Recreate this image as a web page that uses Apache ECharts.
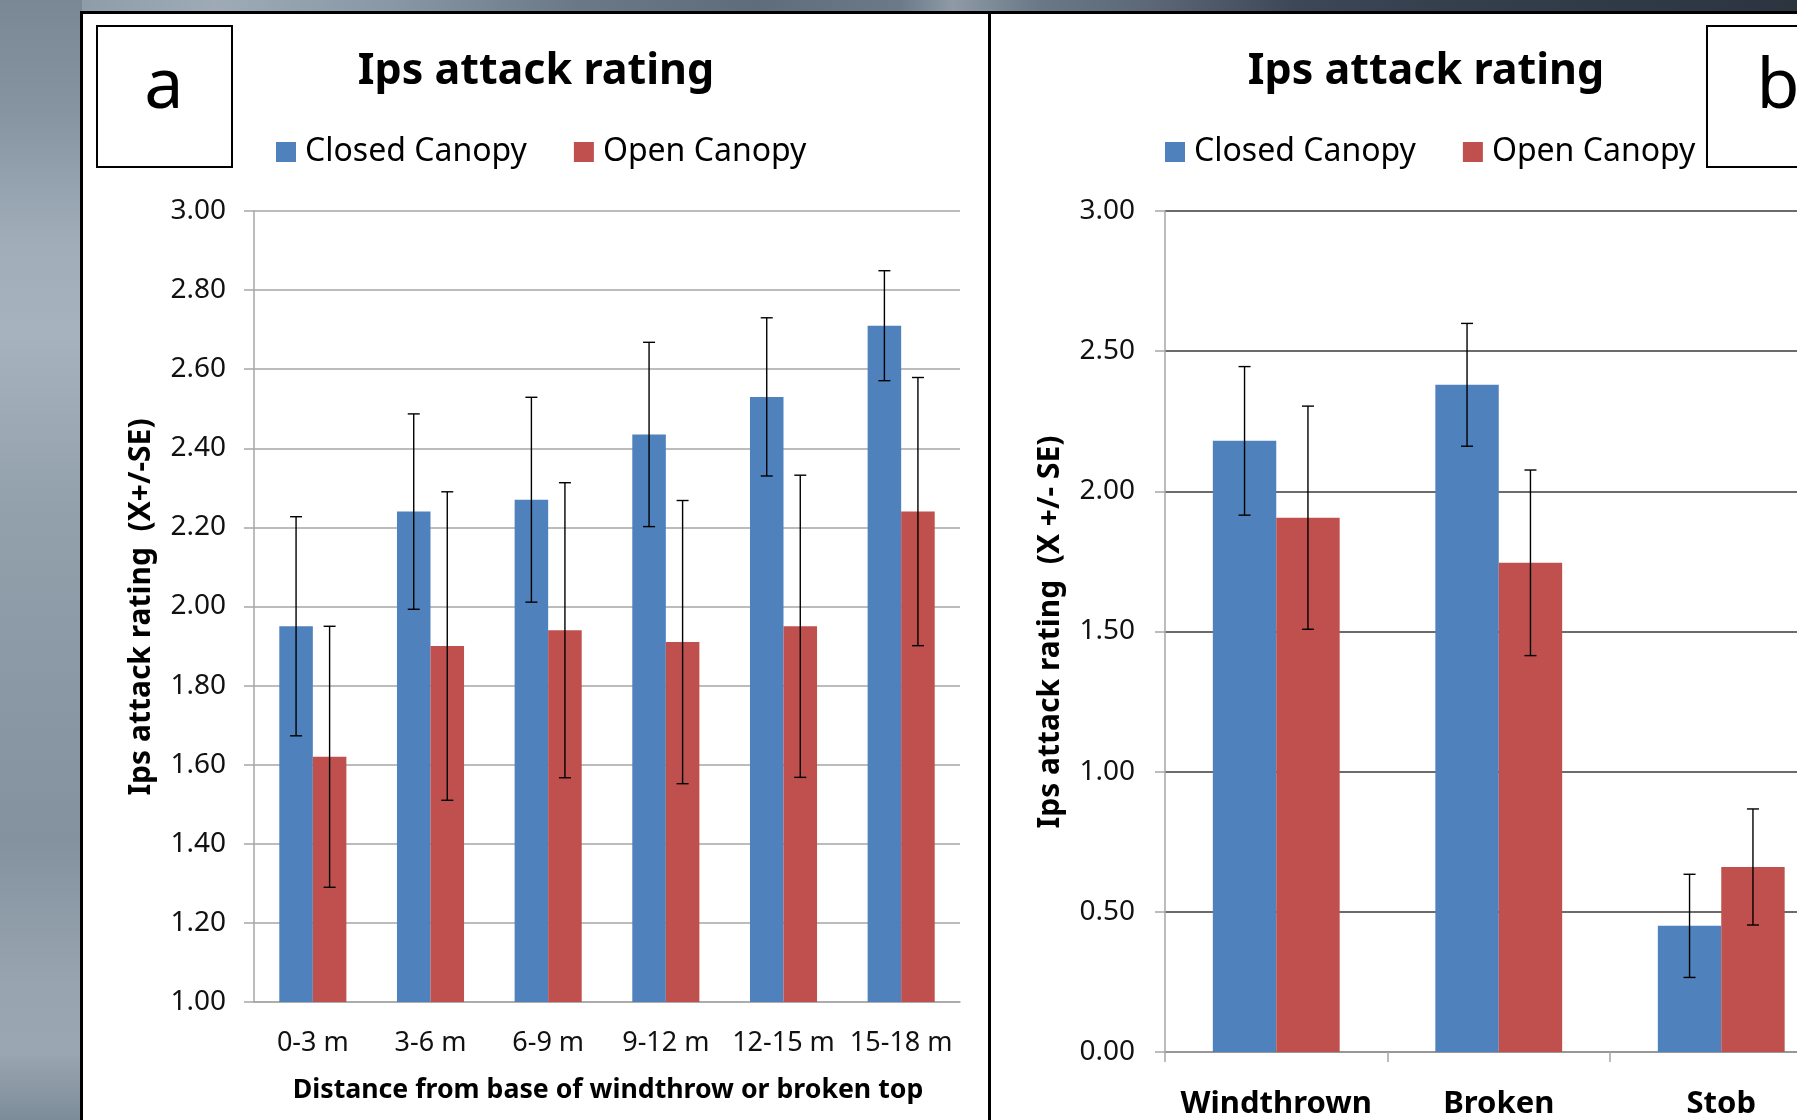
<!DOCTYPE html>
<html>
<head>
<meta charset="utf-8">
<script src="https://cdn.jsdelivr.net/npm/echarts@6/dist/echarts.min.js"></script>
<style>
  html, body { margin: 0; padding: 0; width: 1797px; height: 1120px; overflow: hidden; }
  body { position: relative; background: #8a98a6; }
  #bgTop { position: absolute; left: 0; top: 0; width: 1797px; height: 14px;
    background: linear-gradient(90deg, #8593a1 0%, #9eabb7 12%, #8797a5 22%, #6a7888 32%, #5e6c7c 42%, #6b7989 50%, #8e9aa6 53%, #697786 58%, #5c6877 64%, #3c4858 72%, #34404e 80%, #2c3440 100%); }
  #bgLeft { position: absolute; left: 0; top: 0; width: 82px; height: 1120px;
    background: linear-gradient(180deg, #7a8795 0%, #8694a2 10%, #a1aeba 22%, #a6b3be 30%, #93a1ad 45%, #8b99a6 60%, #8492a0 75%, #98a5b0 88%, #9aa6b1 94%, #7d8c9a 100%); }
  #panel { position: absolute; left: 80px; top: 11px; width: 1800px; height: 1200px;
    background: #fff; border-top: 3px solid #000; border-left: 3px solid #000; }
  #divider { position: absolute; left: 988px; top: 11px; width: 3px; height: 1200px; background: #000; }
  #chart { position: absolute; left: 0; top: 0; width: 1900px; height: 1120px; }
</style>
</head>
<body>
<div id="bgTop"></div>
<div id="bgLeft"></div>
<div id="panel"></div>
<div id="divider"></div>
<div id="chart"></div>
<script>
// panel a: distance from base
const distCats = ["0-3 m", "3-6 m", "6-9 m", "9-12 m", "12-15 m", "15-18 m"];
const distClosed = [1.95, 2.24, 2.27, 2.435, 2.53, 2.71];
const distClosedSE = [0.277, 0.247, 0.259, 0.233, 0.2, 0.139];
const distOpen = [1.62, 1.9, 1.94, 1.91, 1.95, 2.24];
const distOpenSE = [0.33, 0.39, 0.373, 0.358, 0.382, 0.339];

// panel b: tree type
const typeCats = ["Windthrown", "Broken", "Stob"];
const typeClosed = [2.18, 2.38, 0.45];
const typeClosedSE = [0.265, 0.219, 0.184];
const typeOpen = [1.906, 1.745, 0.66];
const typeOpenSE = [0.398, 0.331, 0.207];

const seriesNames = ["Closed Canopy", "Open Canopy"];
const blue = "#4f81bd";
const red = "#c0504d";
const BAR_FRAC = 0.285;
const FONT = "Noto Sans";

//error bar data: [category, value, se, which bar]
function errData(closed, closedSE, open, openSE) {
  const out = [];
  closed.forEach((v, i) => out.push([i, v, closedSE[i], 0]));
  open.forEach((v, i) => out.push([i, v, openSE[i], 1]));
  return out;
}

function renderErr(params, api) {
  const i = api.value(0);
  const v = api.value(1);
  const se = api.value(2);
  const k = api.value(3);
  const catW = api.size([1, 0])[0];
  const off = (k - 0.5) * catW * BAR_FRAC;
  const hi = api.coord([i, v + se]);
  const lo = api.coord([i, v - se]);
  const x = hi[0] + off;
  const cap = 6;
  const st = { stroke: "#000", lineWidth: 1.4 };
  return {
    type: "group",
    children: [
      { type: "line", shape: { x1: x, y1: hi[1], x2: x, y2: lo[1] }, style: st },
      { type: "line", shape: { x1: x - cap, y1: hi[1], x2: x + cap, y2: hi[1] }, style: st },
      { type: "line", shape: { x1: x - cap, y1: lo[1], x2: x + cap, y2: lo[1] }, style: st },
    ],
  };
}

const chart = echarts.init(document.getElementById("chart"), null, { renderer: "canvas" });

const legendBase = {
  data: seriesNames,
  orient: "horizontal",
  icon: "rect",
  itemWidth: 20,
  itemHeight: 20,
  itemGap: 47,
  padding: 0,
  selectedMode: false,
  textStyle: { fontFamily: FONT, fontSize: 32, color: "#000", lineHeight: 32, padding: [0, 0, 0, 4] },
};

const option = {
  animation: false,
  backgroundColor: "transparent",
  textStyle: { fontFamily: FONT },
  legend: [
    Object.assign({}, legendBase, { left: 276, top: 136 }),
    Object.assign({}, legendBase, { left: 1165, top: 136 }),
  ],
  grid: [
    { left: 254, top: 211, width: 706, height: 791 },
    { left: 1165, top: 211, width: 667.5, height: 841 },
  ],
  xAxis: [
    {
      gridIndex: 0,
      type: "category",
      data: distCats,
      axisLine: { lineStyle: { color: "#a6a6a6", width: 1.5 } },
      axisTick: { show: false },
      axisLabel: { fontSize: 27, color: "#111", margin: 28, interval: 0 },
    },
    {
      gridIndex: 1,
      type: "category",
      data: typeCats,
      axisLine: { lineStyle: { color: "#a6a6a6", width: 1.5 } },
      axisTick: { show: true, length: 10, lineStyle: { color: "#a6a6a6", width: 1.5 } },
      axisLabel: { fontSize: 31, fontWeight: "bold", color: "#000", margin: 37, interval: 0 },
    },
  ],
  yAxis: [
    {
      gridIndex: 0,
      type: "value",
      min: 1,
      max: 3,
      interval: 0.2,
      axisLine: { show: true, lineStyle: { color: "#a6a6a6", width: 1.5 } },
      axisTick: { show: true, length: 10, lineStyle: { color: "#a6a6a6", width: 1.5 } },
      axisLabel: { fontSize: 28, color: "#111", margin: 28, formatter: (v) => v.toFixed(2) },
      splitLine: { show: true, lineStyle: { color: "#a6a6a6", width: 1.5 } },
    },
    {
      gridIndex: 1,
      type: "value",
      min: 0,
      max: 3,
      interval: 0.5,
      axisLine: { show: true, lineStyle: { color: "#a6a6a6", width: 1.5 } },
      axisTick: { show: true, length: 10, lineStyle: { color: "#a6a6a6", width: 1.5 } },
      axisLabel: { fontSize: 28, color: "#111", margin: 30, formatter: (v) => v.toFixed(2) },
      splitLine: { show: true, lineStyle: { color: "#3a3a3a", width: 1.5 } },
    },
  ],
  series: [
    { name: seriesNames[0], type: "bar", xAxisIndex: 0, yAxisIndex: 0, data: distClosed, barWidth: "28.5%", barGap: "0%", itemStyle: { color: blue } },
    { name: seriesNames[1], type: "bar", xAxisIndex: 0, yAxisIndex: 0, data: distOpen, barWidth: "28.5%", barGap: "0%", itemStyle: { color: red } },
    { name: seriesNames[0], type: "bar", xAxisIndex: 1, yAxisIndex: 1, data: typeClosed, barWidth: "28.5%", barGap: "0%", itemStyle: { color: blue } },
    { name: seriesNames[1], type: "bar", xAxisIndex: 1, yAxisIndex: 1, data: typeOpen, barWidth: "28.5%", barGap: "0%", itemStyle: { color: red } },
    {
      type: "custom",
      xAxisIndex: 0,
      yAxisIndex: 0,
      z: 5,
      renderItem: renderErr,
      encode: { x: 0, y: 1 },
      data: errData(distClosed, distClosedSE, distOpen, distOpenSE),
    },
    {
      type: "custom",
      xAxisIndex: 1,
      yAxisIndex: 1,
      z: 5,
      renderItem: renderErr,
      encode: { x: 0, y: 1 },
      data: errData(typeClosed, typeClosedSE, typeOpen, typeOpenSE),
    },
  ],
  graphic: [
    // panel labels
    { type: "rect", shape: { x: 97, y: 26, width: 135, height: 141 }, style: { fill: "#fff", stroke: "#000", lineWidth: 2 } },
    { type: "text", x: 164, y: 88, style: { text: "a", font: "70px 'Noto Sans'", fill: "#000", align: "center", verticalAlign: "middle" } },
    { type: "rect", shape: { x: 1707, y: 26, width: 142, height: 141 }, style: { fill: "#fff", stroke: "#000", lineWidth: 2 } },
    { type: "text", x: 1778, y: 88, style: { text: "b", font: "70px 'Noto Sans'", fill: "#000", align: "center", verticalAlign: "middle" } },
    // titles
    { type: "text", x: 536, y: 72, style: { text: "Ips attack rating", font: "bold 43px 'Noto Sans'", fill: "#000", align: "center", verticalAlign: "middle" } },
    { type: "text", x: 1426, y: 72, style: { text: "Ips attack rating", font: "bold 43px 'Noto Sans'", fill: "#000", align: "center", verticalAlign: "middle" } },
    // axis names
    { type: "text", x: 141, y: 607, rotation: Math.PI / 2, style: { text: "Ips attack rating  (X+/-SE)", font: "bold 30px 'Noto Sans'", fill: "#000", align: "center", verticalAlign: "middle" } },
    { type: "text", x: 1050, y: 632, rotation: Math.PI / 2, style: { text: "Ips attack rating  (X +/- SE)", font: "bold 30px 'Noto Sans'", fill: "#000", align: "center", verticalAlign: "middle" } },
    { type: "text", x: 608, y: 1090, style: { text: "Distance from base of windthrow or broken top", font: "bold 26.7px 'Noto Sans'", fill: "#000", align: "center", verticalAlign: "middle" } },
  ],
};

chart.setOption(option);
</script>
</body>
</html>
